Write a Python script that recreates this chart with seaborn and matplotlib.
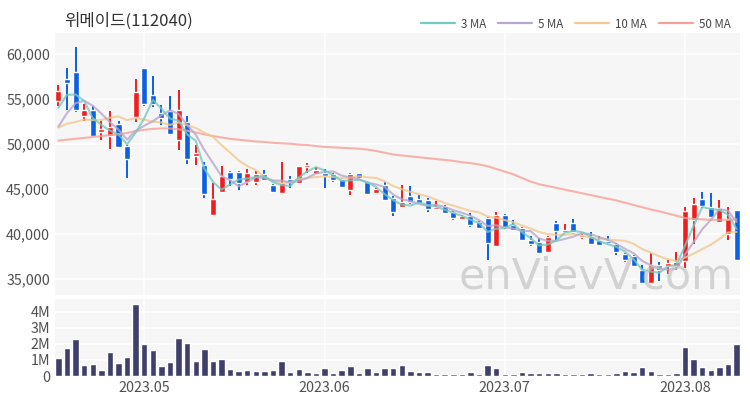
import numpy as np
import pandas as pd
import matplotlib
matplotlib.use("Agg")
import matplotlib.pyplot as plt
from matplotlib.lines import Line2D
from matplotlib.ticker import FuncFormatter
import seaborn as sns

# --- data ---
title = "위메이드(112040)"

opens = [54800, 57200, 58000, 53100, 53800, 51300, 50900, 52200, 49800, 53000,
         58400, 55400, 53400, 53600, 50400, 52400, 48600, 47600, 42100, 44600,
         46900, 46900, 45800, 45800, 46600, 45400, 44500, 46100, 45600, 47400,
         46600, 46700, 46600, 46100, 44900, 46700, 45700, 44500, 45400, 44000,
         43000, 44200, 43900, 43700, 42700, 43100, 42400, 41600, 42000, 41300,
         41700, 38600, 42100, 41000, 40600, 39300, 39100, 38000, 41200, 40250,
         41200, 39600, 39700, 39300, 39200, 38900, 37700, 37500, 36000, 34500,
         36500, 36400, 36400, 37000, 41500, 43900, 43000, 41300, 40000, 42600]
highs = [56500, 58400, 60800, 54400, 54200, 52500, 53600, 52500, 49900, 57200,
         58400, 57500, 54300, 55300, 56000, 53100, 49900, 48000, 45600, 47500,
         46950, 47000, 47200, 47000, 47100, 45500, 48000, 46400, 47550, 47900,
         47400, 47200, 46700, 46200, 46700, 46800, 45800, 45100, 45800, 44200,
         45400, 45300, 44300, 44000, 43600, 43200, 42500, 42100, 42300, 41400,
         41900, 42400, 42200, 41500, 40800, 39700, 39500, 39700, 41400, 41100,
         41600, 40000, 40200, 39700, 39800, 39000, 37900, 37600, 36500, 37900,
         36900, 37100, 38000, 43000, 44000, 44600, 44500, 43700, 43000, 42600]
lows = [54200, 53800, 53500, 52500, 50800, 50400, 49400, 49500, 46200, 52400,
        54200, 54100, 52100, 51000, 49300, 47700, 47600, 44000, 42100, 44500,
        45300, 44900, 45400, 45400, 45900, 44550, 44500, 45100, 45550, 46800,
        46500, 45100, 45700, 45100, 44300, 46000, 44300, 44500, 43700, 42000,
        43000, 43300, 43300, 42400, 42600, 42200, 41500, 41600, 40800, 40500,
        37100, 38500, 40500, 40300, 39300, 38600, 37900, 38000, 39300, 40250,
        40000, 39400, 38800, 38600, 38900, 37600, 36900, 36300, 34500, 34400,
        34800, 35500, 36000, 36200, 38900, 42900, 41900, 41200, 39300, 37000]
closes = [55900, 56700, 53800, 53800, 50900, 51600, 51900, 49600, 48300, 55800,
          54400, 54400, 52900, 51100, 53700, 48300, 49000, 44400, 43900, 46400,
          46100, 45600, 46700, 46600, 46000, 44600, 45600, 45700, 47500, 47600,
          47100, 46400, 46000, 45200, 46600, 46200, 44400, 45000, 43800, 42400,
          43500, 43500, 43400, 42700, 43000, 42300, 41700, 42000, 41000, 40600,
          39000, 42100, 40800, 40400, 39300, 38900, 37900, 39600, 40300, 40450,
          40200, 39900, 38900, 38700, 38950, 38000, 37100, 36400, 34500, 36500,
          36000, 36700, 36900, 42500, 43300, 43100, 41900, 42900, 41600, 37100]
volume_m = [1.10, 1.75, 2.28, 0.66, 0.77, 0.36, 1.51, 0.79, 1.21, 4.47,
            2.02, 1.64, 0.64, 0.87, 2.34, 2.06, 0.94, 1.66, 0.96, 1.04,
            0.43, 0.34, 0.40, 0.32, 0.34, 0.40, 0.94, 0.26, 0.45, 0.26,
            0.17, 0.49, 0.17, 0.36, 0.62, 0.21, 0.49, 0.26, 0.51, 0.51,
            0.66, 0.34, 0.23, 0.23, 0.15, 0.15, 0.15, 0.13, 0.23, 0.13,
            0.66, 0.51, 0.15, 0.13, 0.23, 0.19, 0.21, 0.19, 0.19, 0.15,
            0.15, 0.11, 0.17, 0.13, 0.15, 0.21, 0.30, 0.26, 0.55, 0.32,
            0.13, 0.13, 0.21, 1.81, 1.06, 0.55, 0.38, 0.55, 0.72, 1.98]
# closes of the 9 sessions before the window (estimated from where the MA lines start)
prior_close = [52500, 51800, 51200, 51500, 51500, 49200, 48300, 52380, 53720]
# 50-day MA as drawn (needs history not shown on the chart)
ma50 = [50350, 50450, 50550, 50650, 50750, 50850, 50950, 51050, 51200, 51400,
        51550, 51650, 51700, 51700, 51600, 51450, 51250, 51050, 50850, 50700,
        50550, 50450, 50350, 50250, 50200, 50100, 50050, 50000, 49900, 49850,
        49750, 49650, 49600, 49550, 49500, 49450, 49350, 49200, 49000, 48800,
        48700, 48600, 48500, 48400, 48300, 48200, 48100, 47950, 47850, 47700,
        47500, 47200, 46900, 46600, 46200, 45800, 45500, 45300, 45100, 44900,
        44700, 44500, 44300, 44100, 43900, 43700, 43450, 43200, 42950, 42700,
        42500, 42250, 42000, 41750, 41650, 41600, 41550, 41550, 41550, 41600]

# trading days (KRX holidays in the window)
dates = pd.bdate_range("2023-04-17", periods=len(closes), freq="C",
                       holidays=["2023-05-05", "2023-05-29", "2023-06-06"])
df = pd.DataFrame({"date": dates, "open": opens, "high": highs, "low": lows,
                   "close": closes, "volume": np.array(volume_m) * 1e6})
df["idx"] = np.arange(len(df))

full_close = pd.Series(prior_close + closes)
n_prior = len(prior_close)
for w in [3, 5, 10]:
    df[f"ma{w}"] = full_close.rolling(w).mean().iloc[n_prior:].values
df["ma50"] = ma50

month_first = df[df["date"].dt.month > 4].groupby(df["date"].dt.month)["idx"].first()
month_labels = [f"2023.{m:02d}" for m in month_first.index]

# --- style ---
sns.set_theme(style="white")
plt.rcParams["font.family"] = ["Noto Sans CJK KR", "DejaVu Sans"]

up_c, down_c = "#f21d1d", "#0b5fe0"
ma_colors = {"ma3": "#74c9c1", "ma5": "#b9a6cb", "ma10": "#f2c991", "ma50": "#f6a099"}
ma_names = {"ma3": "3 MA", "ma5": "5 MA", "ma10": "10 MA", "ma50": "50 MA"}
bg = "#f6f6f6"

fig = plt.figure(figsize=(7.5, 4), dpi=100)
ax = fig.add_axes([0.0733, 0.2625, 0.9134, 0.655])
axv = fig.add_axes([0.0733, 0.06, 0.9134, 0.1925], sharex=ax)

for a in (ax, axv):
    a.set_facecolor(bg)
    for s in a.spines.values():
        s.set_visible(False)
    a.grid(True, color="white", lw=1.1)
    a.set_axisbelow(True)
    a.tick_params(length=0, colors="#505050", labelsize=10.3)

# candles
up = df["close"] >= df["open"]
colors = np.where(up, up_c, down_c)
body_lo = df[["open", "close"]].min(axis=1)
body_h = (df["close"] - df["open"]).abs().clip(lower=120)
ax.vlines(df["idx"], df["low"], df["high"], colors=colors, lw=1.4, zorder=2)
ax.bar(df["idx"], body_h, bottom=body_lo, width=0.7, color=colors, zorder=3)

# moving averages
for key in ["ma50", "ma10", "ma5", "ma3"]:
    sns.lineplot(x=df["idx"], y=df[key], ax=ax, color=ma_colors[key], lw=1.5,
                 alpha=0.8, zorder=4)

ax.set_ylim(33200, 62300)
ax.set_yticks([35000, 40000, 45000, 50000, 55000, 60000])
ax.yaxis.set_major_formatter(FuncFormatter(lambda v, p: f"{v:,.0f}"))
ax.set_xlim(-0.4, len(df) - 0.6)
ax.set_xticks(month_first.values)
ax.tick_params(axis="x", labelbottom=False)
ax.set_xlabel("")
ax.set_ylabel("")

ax.text(0.99, 0.025, "enVievV.com", transform=ax.transAxes, ha="right", va="baseline",
        fontsize=31, color="#c4c4c4", alpha=0.7, family=["DejaVu Sans"], zorder=5)

# volume
sns.barplot(x=df["idx"], y=df["volume"], ax=axv, native_scale=True, width=0.75,
            color="#3f3f6b", saturation=1)
axv.set_ylim(0, 4.8e6)
axv.set_yticks([0, 1e6, 2e6, 3e6, 4e6])
axv.set_yticklabels(["0", "1M", "2M", "3M", "4M"])
axv.set_xticks(month_first.values)
axv.set_xticklabels(month_labels)
axv.set_xlabel("")
axv.set_ylabel("")
axv.set_xlim(-0.4, len(df) - 0.6)

fig.text(0.085, 0.947, title, fontsize=12, color="#333333", va="center", ha="left")

handles = [Line2D([0], [0], color=ma_colors[k], lw=1.6) for k in ["ma3", "ma5", "ma10", "ma50"]]
fig.legend(handles, [ma_names[k] for k in ["ma3", "ma5", "ma10", "ma50"]],
           loc="center right", bbox_to_anchor=(0.988, 0.94), ncol=4, frameon=False,
           fontsize=8.3, handlelength=3.0, columnspacing=1.0, handletextpad=0.5,
           labelcolor="#444444")

fig.savefig("out.png", dpi=100)
